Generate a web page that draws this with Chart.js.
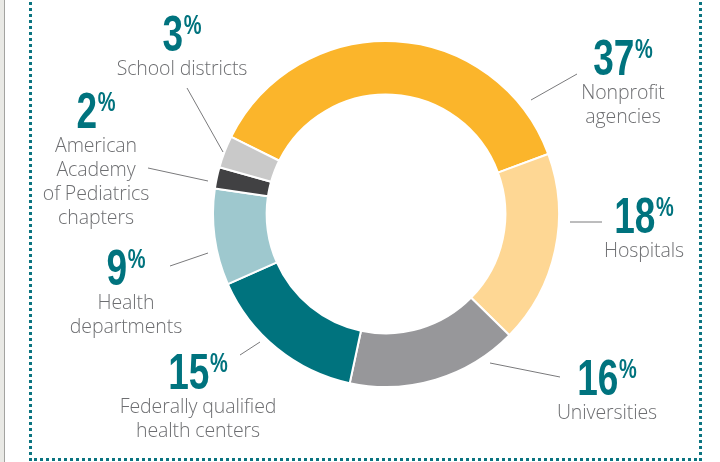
<!DOCTYPE html>
<html>
<head>
<meta charset="utf-8">
<script src="https://cdn.jsdelivr.net/npm/chart.js@4"></script>
<style>
  html, body { margin: 0; padding: 0; background: #fff; }
  #wrap { position: relative; width: 720px; height: 462px; overflow: hidden; }
  #strip { position: absolute; left: 0; top: 0; width: 4px; height: 462px; background: #e9e9e5; border-right: 1px solid #a3a3a0; }
  #frame { position: absolute; left: 29px; top: -10px; width: 667px; height: 465px; border: 3px dotted #0b7480; }
  canvas { position: absolute; left: 0; top: 0; }
  .lbl { position: absolute; transform: translateX(-50%); text-align: center; white-space: nowrap; }
  .num { font-family: "Liberation Sans", Arial, sans-serif; font-weight: bold; font-size: 50px;
         line-height: 44px; color: #00737e; transform: scaleX(0.74); transform-origin: center; }
  .num span { font-size: 27px; line-height: 26px; vertical-align: top; margin-left: 1px; }
  .txt { font-family: "Open Sans", "Noto Sans", sans-serif; font-weight: 300; font-size: 19.5px;
         line-height: 24px; color: #6d6e71; letter-spacing: -0.1px; }
</style>
</head>
<body>
<div id="wrap">
  <div id="strip"></div>
  <div id="frame"></div>
  <canvas id="donut" width="720" height="462"></canvas>
  <div id="labels"></div>
</div>
<script>
// slice order runs clockwise from the top (Nonprofit first)
const categories = ["Nonprofit agencies", "Hospitals", "Universities", "Federally qualified health centers",
                    "Health departments", "American Academy of Pediatrics chapters", "School districts"];
const shares = [37, 18, 16, 15, 9, 2, 3];
const sliceColors = ["#fbb52b", "#fed794", "#97979a", "#00737e", "#9ec8ce", "#414143", "#c9c9c9"];

// label text lines, split as in the original
const labelLines = [
  ["Nonprofit", "agencies"],
  ["Hospitals"],
  ["Universities"],
  ["Federally qualified", "health centers"],
  ["Health", "departments"],
  ["American", "Academy", "of Pediatrics", "chapters"],
  ["School districts"]
];
// label anchor: [center x, baseline of the big number]
const labelPos = [[623, 75], [644, 233], [607, 395], [198, 389], [126, 285], [96, 128], [182, 51]];
// leader lines, offsets from the donut center [x1, y1, x2, y2]
const leaders = [
  [145, -114, 191, -140],
  [184, 8, 216, 8],
  [104, 149, 174, 163],
  [-146, 141, -126, 128],
  [-216, 52, -178, 39],
  [-238, -46, -178, -33],
  [-199, -126, -163, -62]
];

// build the html labels
const holder = document.getElementById('labels');
shares.forEach(function (v, i) {
  const d = document.createElement('div');
  d.className = 'lbl';
  d.style.left = labelPos[i][0] + 'px';
  d.style.top = (labelPos[i][1] - 39) + 'px';
  let html = '<div class="num">' + v + '<span>%</span></div><div class="txt">';
  html += labelLines[i].join('<br>') + '</div>';
  d.innerHTML = html;
  holder.appendChild(d);
});

const leaderPlugin = {
  id: 'leaders',
  afterDatasetsDraw(chart) {
    const arc = chart.getDatasetMeta(0).data[0];
    if (!arc) return;
    const cx = arc.x, cy = arc.y;
    const ctx = chart.ctx;
    ctx.save();
    ctx.strokeStyle = '#7a7a7c';
    ctx.lineWidth = 1;
    leaders.forEach(function (l) {
      ctx.beginPath();
      ctx.moveTo(cx + l[0], cy + l[1]);
      ctx.lineTo(cx + l[2], cy + l[3]);
      ctx.stroke();
    });
    ctx.restore();
  }
};

new Chart(document.getElementById('donut').getContext('2d'), {
  type: 'doughnut',
  data: {
    labels: categories,
    datasets: [{
      data: shares,
      backgroundColor: sliceColors,
      borderColor: '#ffffff',
      borderWidth: 2
    }]
  },
  options: {
    responsive: false,
    animation: false,
    rotation: -63.5,
    cutout: '69%',
    layout: { padding: { left: 212, right: 160, top: 40, bottom: 74 } },
    plugins: {
      legend: { display: false },
      tooltip: { enabled: false }
    }
  },
  plugins: [leaderPlugin]
});
</script>
</body>
</html>
